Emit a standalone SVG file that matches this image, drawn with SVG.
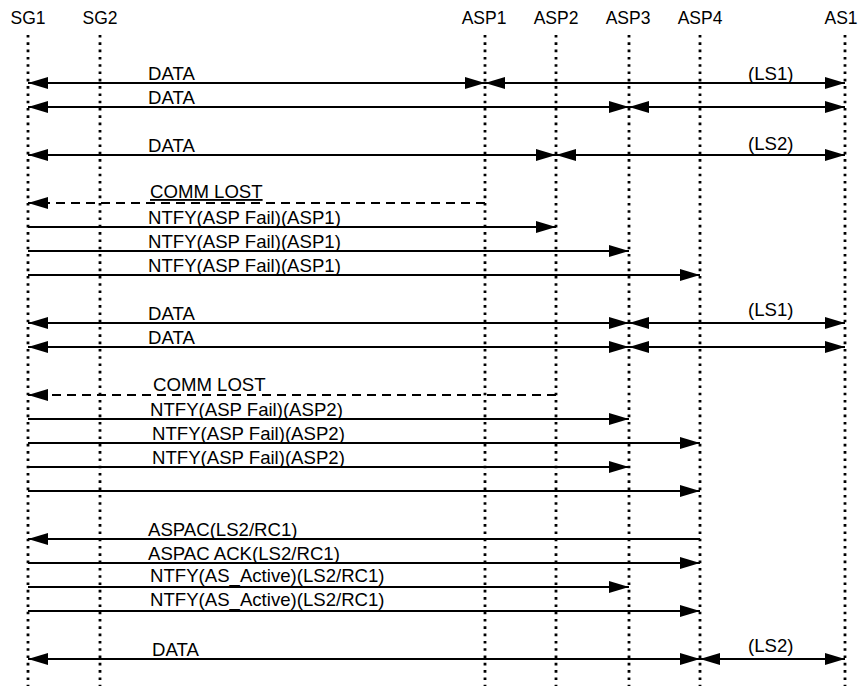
<svg xmlns="http://www.w3.org/2000/svg" width="861" height="686" viewBox="0 0 861 686">
<style>
.hdr{font-family:"Liberation Sans",Arial,sans-serif;font-size:17.5px;fill:#000;text-anchor:middle}
.lbl{font-family:"Liberation Sans",Arial,sans-serif;font-size:18.6px;fill:#000}
.life{stroke:#000;stroke-width:2.8;stroke-dasharray:2.6 4.7;fill:none}
.msg{stroke:#000;stroke-width:2.2;fill:none}
.dash{stroke:#000;stroke-width:2.2;fill:none;stroke-dasharray:9 6}
.bi{marker-start:url(#ah);marker-end:url(#ah)}
.one{marker-end:url(#ah)}
</style>
<defs>
<marker id="ah" viewBox="0 0 20 12" refX="20" refY="6" markerWidth="20" markerHeight="12" markerUnits="userSpaceOnUse" orient="auto-start-reverse">
<path d="M0,0 L20,6 L0,12 z" fill="#000"/>
</marker>
</defs>
<rect width="861" height="686" fill="#fff"/>
<g id="SG1"><text class="hdr" x="28" y="24">SG1</text><line class="life" x1="28" y1="35" x2="28" y2="686"/></g>
<g id="SG2"><text class="hdr" x="100" y="24">SG2</text><line class="life" x1="100" y1="35" x2="100" y2="686"/></g>
<g id="ASP1"><text class="hdr" x="484" y="24">ASP1</text><line class="life" x1="485" y1="35" x2="485" y2="686"/></g>
<g id="ASP2"><text class="hdr" x="556" y="24">ASP2</text><line class="life" x1="556" y1="35" x2="556" y2="686"/></g>
<g id="ASP3"><text class="hdr" x="628" y="24">ASP3</text><line class="life" x1="629" y1="35" x2="629" y2="686"/></g>
<g id="ASP4"><text class="hdr" x="700" y="24">ASP4</text><line class="life" x1="700" y1="35" x2="700" y2="686"/></g>
<g id="AS1"><text class="hdr" x="841" y="24">AS1</text><line class="life" x1="845" y1="35" x2="845" y2="686"/></g>
<g id="connectors">
<line class="msg bi" x1="28" y1="83" x2="485" y2="83"/><line class="msg bi" x1="485" y1="83" x2="845" y2="83"/>
<line class="msg bi" x1="28" y1="107" x2="629" y2="107"/><line class="msg bi" x1="629" y1="107" x2="845" y2="107"/>
<line class="msg bi" x1="28" y1="155" x2="556" y2="155"/><line class="msg bi" x1="556" y1="155" x2="845" y2="155"/>
<line class="dash one" x1="485" y1="203" x2="28" y2="203"/>
<line class="msg one" x1="28" y1="227" x2="556" y2="227"/>
<line class="msg one" x1="28" y1="251" x2="629" y2="251"/>
<line class="msg one" x1="28" y1="275" x2="700" y2="275"/>
<line class="msg bi" x1="28" y1="323" x2="629" y2="323"/><line class="msg bi" x1="629" y1="323" x2="845" y2="323"/>
<line class="msg bi" x1="28" y1="347" x2="629" y2="347"/><line class="msg bi" x1="629" y1="347" x2="845" y2="347"/>
<line class="dash one" x1="556" y1="395" x2="28" y2="395"/>
<line class="msg one" x1="28" y1="419" x2="629" y2="419"/>
<line class="msg one" x1="28" y1="443" x2="700" y2="443"/>
<line class="msg one" x1="28" y1="467" x2="629" y2="467"/>
<line class="msg one" x1="28" y1="491" x2="700" y2="491"/>
<line class="msg one" x1="700" y1="539" x2="28" y2="539"/>
<line class="msg one" x1="28" y1="563" x2="700" y2="563"/>
<line class="msg one" x1="28" y1="587" x2="629" y2="587"/>
<line class="msg one" x1="28" y1="611" x2="700" y2="611"/>
<line class="msg bi" x1="28" y1="659" x2="700" y2="659"/><line class="msg bi" x1="700" y1="659" x2="845" y2="659"/>
</g>
<g id="labels">
<text class="lbl" x="148" y="80">DATA</text><text class="lbl" x="748" y="80">(LS1)</text>
<text class="lbl" x="148" y="104">DATA</text>
<text class="lbl" x="148" y="152">DATA</text><text class="lbl" x="748" y="150">(LS2)</text>
<text class="lbl" x="150" y="198" text-decoration="underline">COMM LOST</text>
<text class="lbl" x="148" y="224">NTFY(ASP Fail)(ASP1)</text>
<text class="lbl" x="148" y="248">NTFY(ASP Fail)(ASP1)</text>
<text class="lbl" x="148" y="272">NTFY(ASP Fail)(ASP1)</text>
<text class="lbl" x="148" y="320">DATA</text><text class="lbl" x="748" y="316">(LS1)</text>
<text class="lbl" x="148" y="344">DATA</text>
<text class="lbl" x="153" y="391">COMM LOST</text>
<text class="lbl" x="150" y="416">NTFY(ASP Fail)(ASP2)</text>
<text class="lbl" x="152" y="440">NTFY(ASP Fail)(ASP2)</text>
<text class="lbl" x="152" y="464">NTFY(ASP Fail)(ASP2)</text>
<text class="lbl" x="148" y="536">ASPAC(LS2/RC1)</text>
<text class="lbl" x="148" y="560">ASPAC ACK(LS2/RC1)</text>
<text class="lbl" x="150" y="582">NTFY(AS_Active)(LS2/RC1)</text>
<text class="lbl" x="150" y="606">NTFY(AS_Active)(LS2/RC1)</text>
<text class="lbl" x="152" y="656">DATA</text><text class="lbl" x="748" y="652">(LS2)</text>
</g>
</svg>
